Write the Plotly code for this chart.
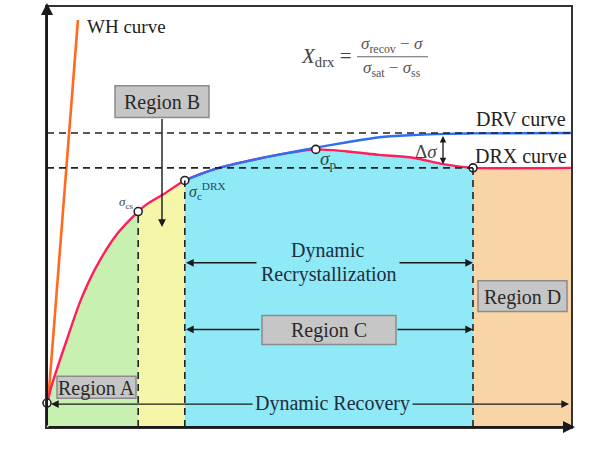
import plotly.graph_objects as go

# ---------------- data (normalised strain / stress units) ----------------
drx_strain = [0.001, 0.002, 0.008, 0.020, 0.042, 0.064, 0.093, 0.134, 0.174, 0.190, 0.222, 0.263,
              0.317, 0.382, 0.445, 0.513, 0.573, 0.635, 0.698, 0.756, 0.788, 0.813, 1.000]
drx_stress = [0.057, 0.064, 0.095, 0.142, 0.223, 0.301, 0.379, 0.460, 0.513, 0.530, 0.554, 0.587,
              0.613, 0.633, 0.649, 0.661, 0.656, 0.648, 0.641, 0.626, 0.620, 0.617, 0.617]

drv_strain = [0.263, 0.317, 0.382, 0.445, 0.508, 0.573, 0.635, 0.698, 0.762, 0.813, 1.000]
drv_stress = [0.587, 0.613, 0.633, 0.649, 0.664, 0.678, 0.690, 0.695, 0.698, 0.699, 0.700]

wh_strain = [0.002, 0.059]
wh_stress = [0.059, 0.969]

# characteristic levels
sigma_0 = 0.057
sigma_ss = 0.617
sigma_sat = 0.700
eps_cs, sigma_cs = 0.174, 0.513
eps_c, sigma_c = 0.263, 0.587
eps_p, sigma_p = 0.513, 0.661
eps_ss = 0.813

key_points_x = [0.0, eps_cs, eps_c, eps_p, eps_ss]
key_points_y = [sigma_0, sigma_cs, sigma_c, sigma_p, sigma_ss]

region_colors = ["#c8f0b0", "#f6f6a8", "#8fe9f7", "#f9d4a6"]
region_bounds = [(0.0, eps_cs), (eps_cs, eps_c), (eps_c, eps_ss), (eps_ss, 1.0)]

FONT = "Liberation Serif, Times New Roman, serif"

# layout helpers (pixel -> axis units) for decorations only
def X(px):
    return (px - 47) / 524

def Y(py):
    return (427 - py) / 422

fig = go.Figure()
SM = 0.8

# region fills under the DRX curve
for (a, b), col in zip(region_bounds, region_colors):
    xs = [x for x in drx_strain if a - 1e-9 <= x <= b + 1e-9]
    ys = [y for x, y in zip(drx_strain, drx_stress) if a - 1e-9 <= x <= b + 1e-9]
    if a == 0.0:
        xs = [0.0] + xs
        ys = [sigma_0] + ys
    fig.add_trace(go.Scatter(x=xs, y=ys, mode="lines", fill="tozeroy",
                             fillcolor=col, line=dict(width=0, shape="spline", smoothing=SM),
                             hoverinfo="skip", showlegend=False))

shapes = []
dash = "7px,5px"
shapes.append(dict(type="line", x0=0, x1=1, y0=sigma_sat, y1=sigma_sat,
                   line=dict(color="#222", width=1.6, dash=dash)))
shapes.append(dict(type="line", x0=0, x1=eps_ss, y0=sigma_ss, y1=sigma_ss,
                   line=dict(color="#222", width=1.6, dash=dash)))
for ex, sy in [(eps_cs, sigma_cs), (eps_c, sigma_c), (eps_ss, sigma_ss)]:
    shapes.append(dict(type="line", x0=ex, x1=ex, y0=0, y1=sy,
                       line=dict(color="#222", width=1.6, dash=dash)))

# boxes
boxes = [
    ("Region B", 115, 84, 209, 116),
    ("Region A", 57, 376, 136, 398),
    ("Region C", 262, 315, 396, 344),
    ("Region D", 478, 280, 567, 311),
]
ann = []
for txt, x0, y0, x1, y1 in boxes:
    shapes.append(dict(type="rect", x0=X(x0), x1=X(x1), y0=Y(y0), y1=Y(y1),
                       fillcolor="#c6c6c6", line=dict(color="#8c8c8c", width=1.5)))
    ann.append(dict(text=txt, x=X((x0 + x1) / 2), y=Y((y0 + y1) / 2 + 1), showarrow=False,
                    font=dict(family=FONT, size=20, color="#2a2a2a")))

# formula fraction bar
shapes.append(dict(type="line", x0=X(357), x1=X(428), y0=Y(55), y1=Y(55),
                   line=dict(color="#666", width=1)))

# WH curve
fig.add_trace(go.Scatter(x=wh_strain, y=wh_stress, mode="lines",
                         line=dict(color="#ff6a1f", width=2.6), hoverinfo="skip", showlegend=False))
# DRX curve
fig.add_trace(go.Scatter(x=[0.0] + drx_strain, y=[sigma_0] + drx_stress, mode="lines",
                         line=dict(color="#ff1e5c", width=2.4, shape="spline", smoothing=SM),
                         hoverinfo="skip", showlegend=False))
# DRV curve
fig.add_trace(go.Scatter(x=drv_strain, y=drv_stress, mode="lines",
                         line=dict(color="#2f6df2", width=2.4, shape="spline", smoothing=SM),
                         hoverinfo="skip", showlegend=False))
# key points
fig.add_trace(go.Scatter(x=key_points_x, y=key_points_y, mode="markers",
                         marker=dict(size=8, color="white", line=dict(color="#222", width=1.6)),
                         hoverinfo="skip", showlegend=False, cliponaxis=False))


def arrow(tx, ty, sx, sy, side="end", w=1.4, head=2, size=1.1, color="#1a1a1a"):
    ann.append(dict(text="", x=X(tx), y=Y(ty), ax=X(sx), ay=Y(sy), axref="x", ayref="y",
                    xref="x", yref="y", showarrow=True, arrowhead=head, arrowsize=size,
                    arrowwidth=w, arrowcolor=color, arrowside=side))


def text(t, px, py, size=16, color="#222", xanchor="center", yanchor="middle", angle=0):
    ann.append(dict(text=t, x=X(px), y=Y(py), showarrow=False, xanchor=xanchor,
                    yanchor=yanchor, textangle=angle,
                    font=dict(family=FONT, size=size, color=color)))


# axes arrows
arrow(47, 1, 47, 427, w=2, head=2, size=1.2)
arrow(575, 427, 47, 427, w=2, head=2, size=1.2)

# process arrows
arrow(162, 226, 162, 116)
arrow(186, 262, 258, 262)
arrow(473, 262, 398, 262)
arrow(186, 329, 261, 329)
arrow(473, 329, 396, 329)
arrow(51, 404, 254, 404)
arrow(569, 404, 411, 404)
arrow(443, 163, 443, 133, side="end+start", w=1.3, size=1.0)

text("Flow stress", 26, 50, size=19, angle=-90)
text("Plastic strain", 496, 441, size=19, xanchor="left")
text("WH curve", 85, 25, size=19, xanchor="left")
text("DRV curve", 521, 118, size=20)
text("DRX curve", 521, 155, size=20)
text("<i>σ</i><sub>sat</sub>", 45, 132, size=20, xanchor="right")
text("<i>σ</i><sub>ss</sub>", 45, 165, size=20, xanchor="right")
text("<i>σ</i><sub>0</sub>", 43, 403, size=20, xanchor="right")
text("<i>ε</i><sub>cs</sub>", 139, 437, size=16, color="#555")
text("<i>ε</i><sub>c</sub><sup>DRX</sup>", 190, 437, size=16, color="#555")
text("<i>ε</i><sub>p</sub>", 308, 437, size=16, color="#555")
text("<i>ε</i><sub>ss</sub>", 474, 437, size=16, color="#555")
text("<i>σ</i><sub>cs</sub>", 135, 201, size=13, color="#444", xanchor="right")
text("<i>σ</i><sub>c</sub><sup>DRX</sup>", 187, 190, size=16, color="#2a4a4a", xanchor="left")
text("<i>σ</i><sub>p</sub>", 318, 159, size=19, color="#2a4a4a", xanchor="left")
text("Δ<i>σ</i>", 426, 150, size=19, color="#444")
text("<i>X</i><sub>drx</sub> =", 326, 55, size=21, color="#444")
text("<i>σ</i><sub>recov</sub> − <i>σ</i>", 392, 43, size=17, color="#555")
text("<i>σ</i><sub>sat</sub> − <i>σ</i><sub>ss</sub>", 392, 67, size=17, color="#555")
text("Dynamic", 327, 250, size=20, color="#1e2e3e")
text("Recrystallization", 329, 274, size=20, color="#1e2e3e")
text("Dynamic Recovery", 332, 403, size=20, color="#1e2e3e")

fig.update_layout(
    width=595, height=461,
    margin=dict(l=47, r=24, t=5, b=34),
    paper_bgcolor="white", plot_bgcolor="white",
    xaxis=dict(range=[0, 1], showgrid=False, zeroline=False, showticklabels=False,
               showline=True, mirror=True, linecolor="#333", linewidth=1.6, ticks=""),
    yaxis=dict(range=[0, 1], showgrid=False, zeroline=False, showticklabels=False,
               showline=True, mirror=True, linecolor="#333", linewidth=1.6, ticks=""),
    shapes=shapes, annotations=ann,
)

fig.write_html("out.html", config={"displayModeBar": False},
               post_script="document.body.style.margin='0';")
